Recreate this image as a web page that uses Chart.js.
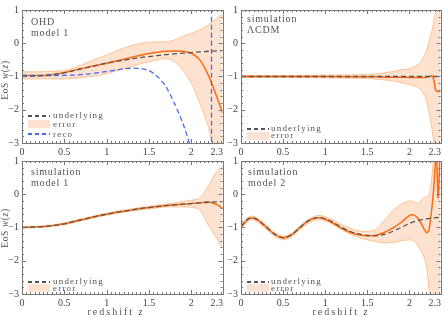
<!DOCTYPE html>
<html>
<head>
<meta charset="utf-8">
<script src="https://cdn.jsdelivr.net/npm/chart.js@4.4.0/dist/chart.umd.min.js"></script>
<style>
  body { margin: 0; background: #fff; }
  #wrap { position: relative; width: 444px; height: 317px; overflow: hidden; font-family: "Liberation Serif", serif; color: #555; }
  canvas { position: absolute; }
  .txt { position: absolute; font-size: 10px; line-height: 11px; letter-spacing: 0.8px; white-space: nowrap; }
  .leg { position: absolute; font-size: 9px; line-height: 9px; letter-spacing: 1.2px; white-space: nowrap; }
  .dash { position: absolute; height: 1.5px; width: 22px; }
  .box { position: absolute; height: 8px; width: 22px; background: #fde2cf; }
  .ytitle { position: absolute; font-size: 9.5px; letter-spacing: 0.6px; transform: translate(-50%, -50%) rotate(-90deg); white-space: nowrap; }
  .xtitle { position: absolute; font-size: 10px; letter-spacing: 2px; transform: translate(-50%, -50%); white-space: nowrap; }
</style>
</head>
<body>
<div id="wrap">
  <canvas id="c1" width="226" height="160" style="left:0;top:0"></canvas>
  <canvas id="c2" width="220" height="160" style="left:224px;top:0"></canvas>
  <canvas id="c3" width="226" height="160" style="left:0;top:150px"></canvas>
  <canvas id="c4" width="220" height="160" style="left:224px;top:150px"></canvas>

  <div class="txt" style="left:31px;top:16px">OHD<br>model 1</div>
  <div class="txt" style="left:247px;top:13px">simulation<br>ΛCDM</div>
  <div class="txt" style="left:31px;top:166px">simulation<br>model 1</div>
  <div class="txt" style="left:248px;top:166px">simulation<br>model 2</div>

  <!-- legends -->
  <div class="dash" style="left:28px;top:115px;background:repeating-linear-gradient(90deg,#555 0 4px,transparent 4px 7px)"></div>
  <div class="leg" style="left:53px;top:111px">underlying</div>
  <div class="box" style="left:28px;top:120px"></div>
  <div class="leg" style="left:53px;top:120px">error</div>
  <div class="dash" style="left:28px;top:133px;background:repeating-linear-gradient(90deg,#4a6cf0 0 4px,transparent 4px 7px)"></div>
  <div class="leg" style="left:53px;top:130px">reco</div>

  <div class="dash" style="left:247px;top:128px;background:repeating-linear-gradient(90deg,#555 0 4px,transparent 4px 7px)"></div>
  <div class="leg" style="left:271px;top:124px">underlying</div>
  <div class="box" style="left:247px;top:132px"></div>
  <div class="leg" style="left:271px;top:131px">error</div>

  <div class="dash" style="left:28px;top:281px;background:repeating-linear-gradient(90deg,#555 0 4px,transparent 4px 7px)"></div>
  <div class="leg" style="left:53px;top:277px">underlying</div>
  <div class="box" style="left:28px;top:284px"></div>
  <div class="leg" style="left:53px;top:284px">error</div>

  <div class="dash" style="left:247px;top:281px;background:repeating-linear-gradient(90deg,#555 0 4px,transparent 4px 7px)"></div>
  <div class="leg" style="left:271px;top:277px">underlying</div>
  <div class="box" style="left:247px;top:284px"></div>
  <div class="leg" style="left:271px;top:284px">error</div>

  <div class="ytitle" style="left:5px;top:80px">EoS <i>w</i>(<i>z</i>)</div>
  <div class="ytitle" style="left:5px;top:228px">EoS <i>w</i>(<i>z</i>)</div>
  <div class="xtitle" style="left:116px;top:311px">redshift <i>z</i></div>
  <div class="xtitle" style="left:341px;top:311px">redshift <i>z</i></div>
</div>

<script>
// tick labels
const xTicks = [0, 0.5, 1, 1.5, 2, 2.3];
const yTicks = [-3, -2, -1, 0, 1];

// model 1 underlying w(z)
const zModel1 = [0,0.1,0.2,0.3,0.4,0.5,0.6,0.7,0.8,0.9,1.0,1.1,1.2,1.3,1.4,1.5,1.6,1.7,1.8,1.9,2.0,2.1,2.2,2.3,2.37];
const wModel1 = [-1.0,-0.99,-0.98,-0.96,-0.93,-0.89,-0.83,-0.77,-0.71,-0.65,-0.6,-0.55,-0.51,-0.47,-0.43,-0.4,-0.37,-0.34,-0.32,-0.3,-0.28,-0.26,-0.24,-0.23,-0.22];

// OHD panel
const ohdReco  = [-0.97,-0.97,-0.97,-0.96,-0.93,-0.88,-0.82,-0.76,-0.71,-0.66,-0.6,-0.54,-0.48,-0.42,-0.36,-0.31,-0.27,-0.24,-0.23,-0.24,-0.3,-0.5,-0.95,-1.6,-2.1];
const ohdUpper = [-0.86,-0.86,-0.86,-0.85,-0.84,-0.82,-0.75,-0.66,-0.55,-0.45,-0.35,-0.25,-0.15,-0.07,0.0,0.03,0.04,0.04,0.1,0.2,0.3,0.4,0.55,0.75,0.9];
const ohdLower = [-1.07,-1.07,-1.07,-1.07,-1.07,-1.07,-1.06,-1.03,-1.0,-0.96,-0.92,-0.84,-0.77,-0.7,-0.62,-0.55,-0.5,-0.46,-0.55,-0.8,-1.2,-1.8,-2.5,-3.6,-4.2];
const zBlue = [0,0.2,0.4,0.6,0.8,1.0,1.1,1.2,1.3,1.4,1.5,1.6,1.7,1.8,1.9,2.0,2.1,2.2,2.239,2.241,2.3,2.37];
const ohdBlue = [-0.97,-0.97,-0.97,-0.96,-0.92,-0.85,-0.81,-0.77,-0.75,-0.76,-0.82,-1.0,-1.3,-1.8,-2.4,-3.2,-4.5,-8,-40,40,10,7];

// LCDM panel
const zLcdm = [0,0.5,1.0,1.5,1.6,1.7,1.8,1.9,2.0,2.1,2.15,2.2,2.25,2.27,2.29,2.31,2.33,2.35,2.37];
const lcdmReco  = [-1,-1,-1,-1.01,-1.01,-1.02,-1.02,-1.02,-1.03,-1.03,-1.03,-1.02,-0.99,-0.98,-1.1,-1.4,-1.45,-1.45,-1.45];
const lcdmUpper = [-0.97,-0.97,-0.96,-0.94,-0.92,-0.89,-0.85,-0.8,-0.76,-0.65,-0.5,-0.25,0.2,0.4,0.65,0.9,1.1,1.4,1.7];
const lcdmLower = [-1.03,-1.03,-1.04,-1.06,-1.08,-1.1,-1.13,-1.18,-1.24,-1.33,-1.45,-1.7,-2.3,-2.6,-3.0,-3.4,-3.8,-4.2,-4.6];
const zLcdmTrue = [0, 2.37];
const wLcdmTrue = [-1, -1];

// simulation model 1
const sim1Reco  = [-1.0,-0.99,-0.98,-0.96,-0.93,-0.89,-0.83,-0.77,-0.71,-0.65,-0.6,-0.55,-0.51,-0.47,-0.43,-0.4,-0.37,-0.34,-0.32,-0.3,-0.28,-0.26,-0.23,-0.31,-0.42];
const sim1Upper = [-0.98,-0.97,-0.96,-0.94,-0.91,-0.86,-0.8,-0.74,-0.68,-0.62,-0.57,-0.52,-0.48,-0.44,-0.4,-0.36,-0.33,-0.3,-0.26,-0.22,-0.18,-0.12,0.25,0.68,0.85];
const sim1Lower = [-1.02,-1.01,-1.0,-0.98,-0.95,-0.92,-0.86,-0.8,-0.74,-0.68,-0.63,-0.58,-0.54,-0.5,-0.47,-0.44,-0.41,-0.38,-0.38,-0.38,-0.39,-0.47,-0.92,-1.32,-1.62];

// simulation model 2
const zModel2 = [0,0.05,0.1,0.15,0.2,0.3,0.4,0.5,0.6,0.7,0.8,0.9,1.0,1.1,1.2,1.3,1.4,1.5,1.6,1.7,1.8,1.9,2.0,2.05,2.1,2.15,2.2,2.23,2.26,2.28,2.3,2.32,2.34,2.36,2.37];
const wModel2   = [-0.97,-0.82,-0.72,-0.71,-0.77,-0.98,-1.2,-1.31,-1.22,-1.0,-0.8,-0.7,-0.73,-0.85,-1.0,-1.12,-1.2,-1.24,-1.25,-1.21,-1.12,-1.0,-0.88,-0.83,-0.79,-0.76,-0.74,-0.73,-0.72,-0.71,-0.71,-0.7,-0.7,-0.7,-0.7];
const sim2Reco  = [-0.99,-0.84,-0.73,-0.72,-0.78,-0.99,-1.21,-1.31,-1.22,-1.0,-0.8,-0.71,-0.75,-0.88,-1.03,-1.15,-1.22,-1.25,-1.23,-1.15,-1.02,-0.85,-0.64,-0.62,-0.72,-0.93,-1.15,-1.1,-0.55,-0.1,0.6,1.3,-0.1,0.9,1.5];
const sim2Upper = [-0.92,-0.77,-0.67,-0.66,-0.72,-0.93,-1.15,-1.26,-1.17,-0.95,-0.75,-0.64,-0.67,-0.78,-0.92,-1.03,-1.1,-1.12,-1.06,-0.8,-0.5,-0.3,-0.2,-0.22,-0.28,-0.15,-0.08,-0.05,0.35,0.9,1.5,2.0,2.4,2.8,3.0];
const sim2Lower = [-1.05,-0.9,-0.78,-0.77,-0.84,-1.05,-1.27,-1.37,-1.28,-1.06,-0.87,-0.77,-0.8,-0.92,-1.07,-1.2,-1.3,-1.37,-1.42,-1.46,-1.45,-1.4,-1.37,-1.4,-1.55,-1.75,-2.1,-2.8,-3.5,-4,-4.5,-5,-5.5,-6,-6];

const ORANGE = '#ff6a14', EDGE = '#ffc290', FILL = '#fde2cf', GREY = '#555', BLUE = '#4a6cf0';

const pts = (zs, ws) => zs.map((x, i) => ({ x, y: ws[i] }));

function curve(zs, ws, color, width, dash, order, tension) {
  return { data: pts(zs, ws), borderColor: color, borderWidth: width, borderDash: dash,
           pointRadius: 0, fill: false, order, tension: tension === undefined ? 0.3 : tension };
}
function band(zs, up, lo) {
  return [
    { data: pts(zs, up), borderColor: EDGE, borderWidth: 1, pointRadius: 0, fill: false, order: 3, tension: 0.3 },
    { data: pts(zs, lo), borderColor: EDGE, borderWidth: 1, pointRadius: 0, fill: '-1', backgroundColor: FILL, order: 3, tension: 0.3 }
  ];
}

// frame + inward ticks
const frame = {
  id: 'frame',
  afterDraw(chart) {
    const { ctx, chartArea: a, scales: { x, y } } = chart;
    ctx.save();
    ctx.strokeStyle = '#777';
    ctx.lineWidth = 1;
    ctx.beginPath();
    for (let v = 0; v <= 2.36; v += 0.05) {
      const px = Math.round(x.getPixelForValue(v)) + 0.5;
      const major = Math.abs(v * 2 - Math.round(v * 2)) < 1e-6;
      const len = major ? 4 : 2;
      ctx.moveTo(px, a.bottom); ctx.lineTo(px, a.bottom - len);
      ctx.moveTo(px, a.top); ctx.lineTo(px, a.top + len);
    }
    for (let v = -3; v <= 1.001; v += 0.2) {
      const py = Math.round(y.getPixelForValue(v)) + 0.5;
      const major = Math.abs(v - Math.round(v)) < 1e-6;
      const len = major ? 4 : 2;
      ctx.moveTo(a.left, py); ctx.lineTo(a.left + len, py);
      ctx.moveTo(a.right, py); ctx.lineTo(a.right - len, py);
    }
    ctx.stroke();
    ctx.strokeRect(Math.round(a.left) + 0.5, Math.round(a.top) + 0.5, Math.round(a.right - a.left), Math.round(a.bottom - a.top));
    ctx.restore();
  }
};

function panel(id, datasets, yWidth, xHeight, padTop) {
  new Chart(document.getElementById(id), {
    type: 'line',
    data: { datasets },
    options: {
      responsive: false, animation: false, devicePixelRatio: 1,
      layout: { padding: { top: padTop, right: 3, left: 0, bottom: 0 } },
      plugins: { legend: { display: false }, tooltip: { enabled: false } },
      scales: {
        x: {
          type: 'linear', min: 0, max: 2.37,
          grid: { display: false, drawTicks: false }, border: { display: false },
          afterBuildTicks: s => { s.ticks = xTicks.map(v => ({ value: v })); },
          afterFit: s => { s.height = xHeight; },
          ticks: { padding: 3, maxRotation: 0, autoSkip: false, color: '#444',
                   font: { family: 'Liberation Serif', size: 10 }, callback: v => String(v) }
        },
        y: {
          min: -3, max: 1,
          grid: { display: false, drawTicks: false }, border: { display: false },
          afterBuildTicks: s => { s.ticks = yTicks.map(v => ({ value: v })); },
          afterFit: s => { s.width = yWidth; },
          ticks: { padding: 3, color: '#444', font: { family: 'Liberation Serif', size: 10 },
                   callback: v => v < 0 ? '\u2212' + Math.abs(v) : String(v) }
        }
      }
    },
    plugins: [frame]
  });
}

panel('c1', [
  curve(zModel1, wModel1, GREY, 1.3, [5, 3], 0),
  curve(zBlue, ohdBlue, BLUE, 1.3, [5, 3], 1, 0.2),
  curve(zModel1, ohdReco, ORANGE, 1.5, [], 2),
  ...band(zModel1, ohdUpper, ohdLower)
], 22, 17, 10);

panel('c2', [
  curve(zLcdmTrue, wLcdmTrue, GREY, 1.3, [5, 3], 0),
  curve(zLcdm, lcdmReco, ORANGE, 1.5, [], 2),
  ...band(zLcdm, lcdmUpper, lcdmLower)
], 17, 17, 10);

panel('c3', [
  curve(zModel1, wModel1, GREY, 1.3, [5, 3], 0),
  curve(zModel1, sim1Reco, ORANGE, 1.5, [], 2),
  ...band(zModel1, sim1Upper, sim1Lower)
], 22, 16, 11);

panel('c4', [
  curve(zModel2, wModel2, GREY, 1.3, [5, 3], 0),
  curve(zModel2, sim2Reco, ORANGE, 1.5, [], 2),
  ...band(zModel2, sim2Upper, sim2Lower)
], 17, 16, 11);
</script>
</body>
</html>
